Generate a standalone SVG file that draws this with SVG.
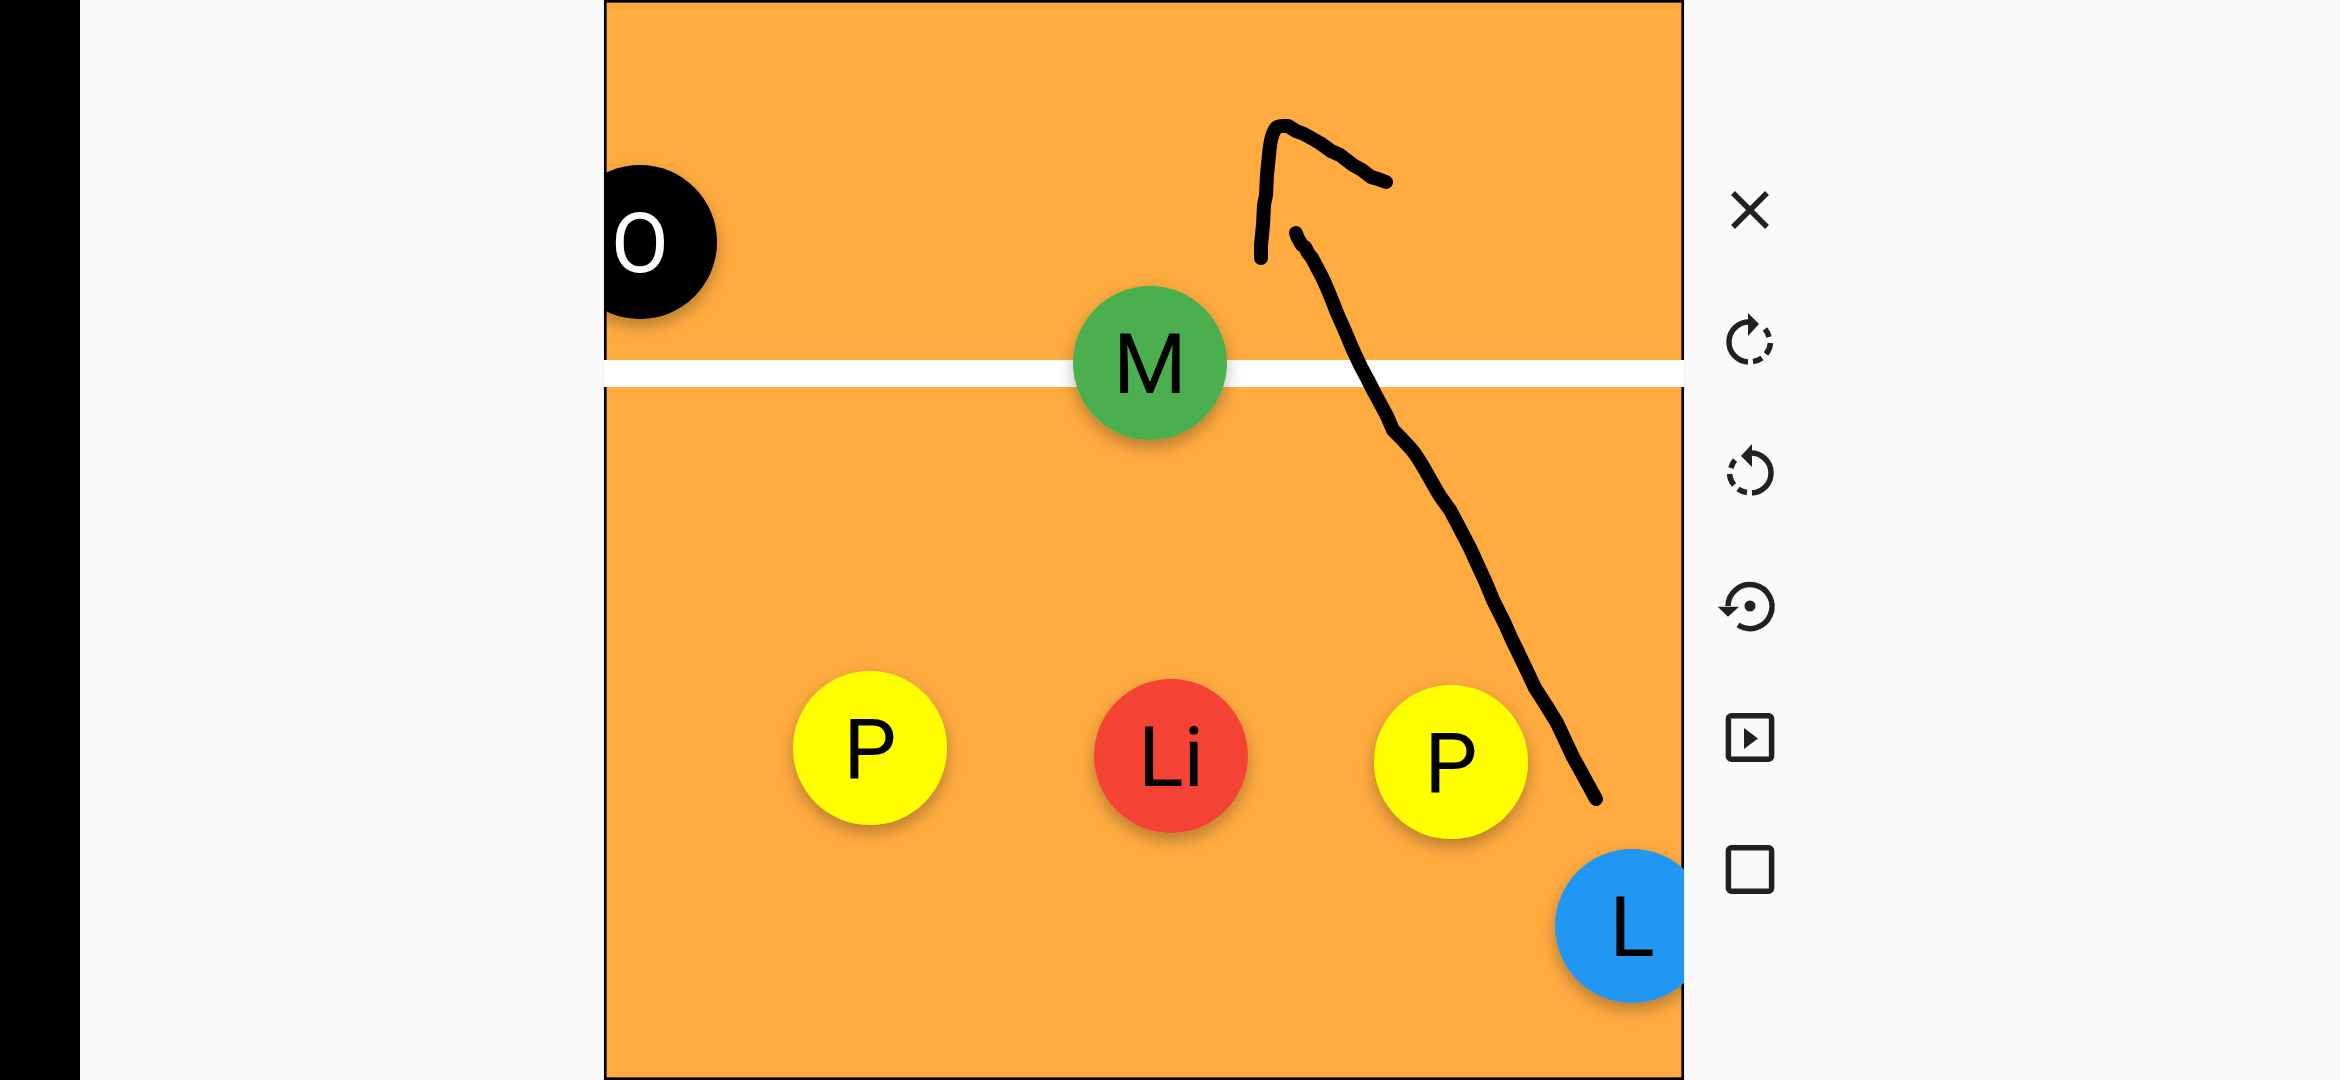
<svg xmlns="http://www.w3.org/2000/svg" width="2340" height="1080" viewBox="0 0 2340 1080">
<style>
.p{font-family:Roboto,"Liberation Sans",sans-serif;font-size:84px;text-anchor:middle;fill:#000}
.s{fill:none;stroke:#000;stroke-width:14;stroke-linecap:round;stroke-linejoin:round}
.i{fill:none;stroke:#212121;stroke-width:5.500}
.f{fill:#212121}
</style>
<defs>
<clipPath id="c"><rect x="604" y="0" width="1080" height="1080"/></clipPath>
<filter id="d" x="-40%" y="-40%" width="180%" height="180%"><feDropShadow dx="0" dy="7" stdDeviation="8" flood-color="#000" flood-opacity=".28"/></filter>
</defs>
<rect width="2340" height="1080" fill="#fafafa"/>
<rect id="bar" width="80" height="1080" fill="#000"/>
<g id="court">
<rect x="605.300" y="1.300" width="1077.400" height="1077.400" fill="#ffab40" stroke="#000" stroke-width="2.700"/>
<rect x="604" y="360" width="1080" height="27" fill="#fff"/>
</g>
<g clip-path="url(#c)">
<g id="node-o"><circle cx="640" cy="242" r="77" fill="#000" filter="url(#d)"/><text class="p" x="640" y="272" style="fill:#fff">O</text></g>
<g id="node-m"><circle cx="1150" cy="363" r="77" fill="#4caf50" filter="url(#d)"/><text class="p" x="1150" y="392.500">M</text></g>
<g id="node-p1"><circle cx="870" cy="748" r="77" fill="#ff0" filter="url(#d)"/><text class="p" x="870" y="778">P</text></g>
<g id="node-li"><circle cx="1171" cy="756" r="77" fill="#f44336" filter="url(#d)"/><text class="p" x="1171" y="786">Li</text></g>
<g id="node-p2"><circle cx="1451" cy="762" r="77" fill="#ff0" filter="url(#d)"/><text class="p" x="1451" y="792">P</text></g>
<g id="node-l"><circle cx="1632" cy="926" r="77" fill="#2196f3" filter="url(#d)"/><text class="p" x="1632" y="955.500">L</text></g>
</g>
<g id="connectors">
<path class="s" d="M1261 258L1261 245L1263 225L1264 205L1266 195L1267 175L1269 155C1270 142 1272 133 1276 128C1279 125 1283 126 1288 126L1296 131L1304 134L1320 143L1331 151L1340 155L1353 165L1362 170L1371 177L1378 179L1386 182"/>
<path class="s" d="M1296 233C1297 238 1299 240 1302 245L1305 247L1308 253L1312 258L1322 277C1327 287 1332 300 1337 313L1345 331L1353 350L1361 367L1368 380L1374 392L1380 403L1387 416L1393 430L1402 439L1412 450C1422 462 1431 482 1440 496L1450 510L1457 523L1470 548L1480 570L1486 583L1493 600L1505 624L1512 640L1517 650L1528 673L1535 688L1546 705L1557 723L1565 740L1573 757L1584 777L1596 799"/>
</g>
<g id="toolbar">
<g id="icon-close"><path class="i" d="M1733 193L1767 227M1767 193L1733 227"/></g>
<g id="icon-redo">
<path class="i" d="M1748 362A20 20 0 1 1 1750 322"/>
<path class="f" d="M1748 313L1759 324L1748 336Z"/>
<path class="i" d="M1765 329A20 20 0 0 1 1769 337M1770.500 343A20 20 0 0 1 1766 354M1762 358A20 20 0 0 1 1753 361.500"/>
</g>
<g id="icon-undo">
<path class="i" d="M1752 493A20 20 0 1 0 1750 453"/>
<path class="f" d="M1752 444L1741 456L1752 467Z"/>
<path class="i" d="M1735 460A20 20 0 0 0 1731 468M1729.500 474A20 20 0 0 0 1734 485M1738 489A20 20 0 0 0 1747 492.500"/>
</g>
<g id="icon-reset">
<path class="i" d="M1728 606A22 22 0 1 1 1738 625"/>
<circle class="f" cx="1750" cy="606" r="5.500"/>
<path class="f" d="M1717.700 606.700H1739L1728 616.700Z"/>
</g>
<g id="icon-play">
<rect class="i" x="1728.400" y="715.700" width="43.200" height="43.600" rx="3"/>
<path class="f" d="M1744 728L1758 738.500L1744 749Z"/>
</g>
<g id="icon-stop">
<rect class="i" x="1728.400" y="847.700" width="43.200" height="43.600" rx="3"/>
</g>
</g>
</svg>
